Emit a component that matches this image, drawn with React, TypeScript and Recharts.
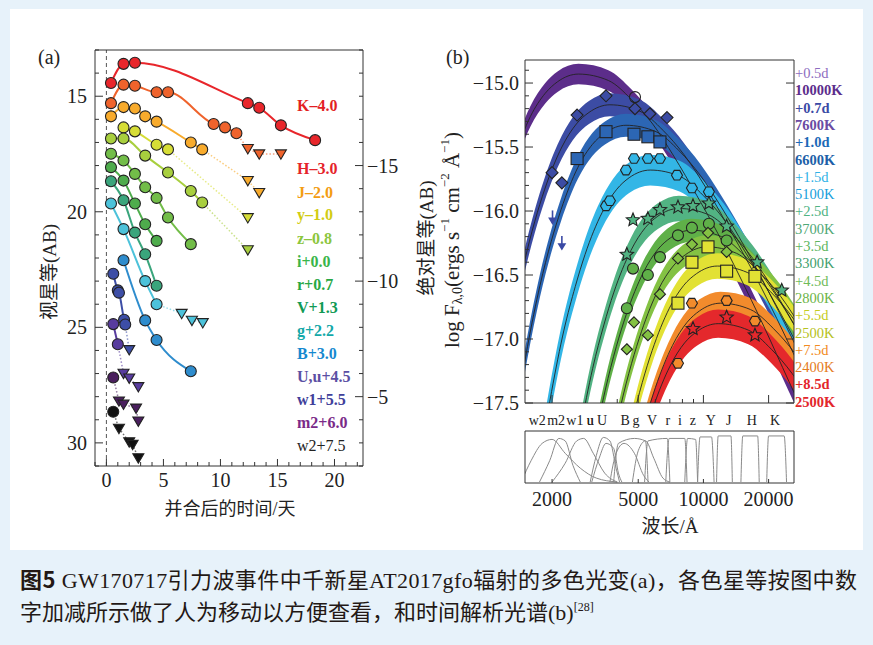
import React from "react";
import { ComposedChart, XAxis, YAxis, Line, Area, Scatter, ReferenceLine } from "recharts";

type Pt = [number, number];

const SERIF = '"Liberation Serif", "Times New Roman", serif';
const MIXED = '"Liberation Serif", "Noto Sans CJK SC", serif';

// ---------- panel (a): light curves, [day, apparent mag] ----------
const K_DET: Pt[] = [[0.4, 14.43], [1.5, 13.6], [2.5, 13.55], [12.4, 15.3], [13.4, 15.5], [15.3, 16.26], [18.3, 16.9]];
const K_UL: Pt[] = [];
const H_DET: Pt[] = [[0.4, 15.3], [1.5, 14.5], [2.5, 14.55], [4.4, 14.83], [5.4, 14.83], [9.4, 16.2], [10.4, 16.35], [11.4, 16.6]];
const H_UL: Pt[] = [[12.4, 17.27], [13.4, 17.5], [15.3, 17.5]];
const J_DET: Pt[] = [[0.4, 15.87], [1.5, 15.47], [2.5, 15.53], [3.4, 15.87], [4.4, 16.1], [7.4, 17.0], [8.4, 17.3]];
const J_UL: Pt[] = [[12.4, 18.65], [13.4, 19.17]];
const Y_DET: Pt[] = [[1.5, 16.35], [2.5, 16.52], [4.4, 17.1], [5.4, 17.3]];
const Y_UL: Pt[] = [[12.4, 20.26]];
const Z_DET: Pt[] = [[0.4, 16.83], [1.5, 16.83], [3.4, 17.57], [5.4, 18.3], [7.4, 19.1], [8.4, 19.6]];
const Z_UL: Pt[] = [[12.4, 21.65]];
const I_DET: Pt[] = [[0.4, 17.49], [1.5, 17.78], [2.5, 18.36], [3.4, 18.94], [4.4, 19.4], [5.4, 20.25], [7.4, 21.4]];
const R_DET: Pt[] = [[0.4, 18.07], [1.5, 18.65], [2.5, 19.64], [3.4, 20.54], [4.4, 21.26]];
const V_DET: Pt[] = [[0.4, 18.68], [1.5, 19.5], [2.5, 20.9], [3.4, 21.84], [4.4, 23.2]];
const G_DET: Pt[] = [[0.4, 19.64], [1.5, 20.75], [3.4, 23.0], [4.4, 24.0]];
const G_UL: Pt[] = [[6.6, 24.4], [7.5, 24.7], [8.45, 24.8]];
const B_DET: Pt[] = [[1.5, 22.1], [3.4, 24.7], [4.4, 25.55], [7.4, 26.9]];
const U_DET: Pt[] = [[0.6, 22.68], [1.0, 23.4], [1.1, 23.5], [1.55, 24.67], [1.65, 24.88]];
const U_UL: Pt[] = [[2.0, 25.97]];
const W1_DET: Pt[] = [[0.6, 24.86], [1.0, 25.73]];
const W1_UL: Pt[] = [[1.5, 26.99], [2.0, 27.2], [2.8, 27.57]];
const M2_DET: Pt[] = [[0.6, 27.17]];
const M2_UL: Pt[] = [[1.1, 28.19], [1.5, 28.33], [2.6, 28.5], [2.8, 29.06]];
const W2_DET: Pt[] = [[0.6, 28.65]];
const W2_UL: Pt[] = [[1.1, 29.37], [2.0, 29.96], [2.3, 30.07], [2.8, 30.65]];

const LC_LABELS = ["K–4.0", "H–3.0", "J–2.0", "y–1.0", "z–0.8", "i+0.0", "r+0.7", "V+1.3", "g+2.2", "B+3.0", "U,u+4.5", "w1+5.5", "m2+6.0", "w2+7.5"];

const A_X_TICKS = [-1, 0, 1, 2, 3, 4, 5, 6, 7, 8, 9, 10, 11, 12, 13, 14, 15, 16, 17, 18, 19, 20, 21, 22];
const A_X_MAJOR = [0, 5, 10, 15, 20];
const A_Y_TICKS = [13, 14, 15, 16, 17, 18, 19, 20, 21, 22, 23, 24, 25, 26, 27, 28, 29, 30, 31];
const A_Y_MAJOR = [15, 20, 25, 30];
const A_ABS_TICKS = [-20, -19, -18, -17, -16, -15, -14, -13, -12, -11, -10, -9, -8, -7, -6, -5, -4, -3, -2];
const A_ABS_MAJOR = [-15, -10, -5];

// ---------- panel (b): blackbody fits, [wavelength Å, log F] ----------
const FIT_05: Pt[] = [[1330, -15.59], [1590, -15.26], [1860, -15.08], [2120, -14.99], [2650, -14.93], [3640, -14.98], [4660, -15.13], [5830, -15.32], [7290, -15.57], [9330, -15.88], [11700, -16.18], [14600, -16.5], [19000, -16.9], [24800, -17.33], [29200, -17.59]];
const FIT_07: Pt[] = [[1295, -16.9], [1480, -16.42], [1665, -16.08], [1850, -15.83], [2220, -15.5], [2590, -15.32], [2960, -15.23], [3700, -15.17], [5090, -15.22], [6510, -15.37], [8140, -15.56], [10200, -15.81], [13000, -16.12], [16300, -16.42], [20400, -16.74], [26500, -17.14]];
const FIT_10: Pt[] = [[1320, -17.75], [1540, -17.06], [1760, -16.58], [1980, -16.24], [2200, -15.99], [2630, -15.66], [3070, -15.48], [3510, -15.39], [4390, -15.33], [6040, -15.38], [7730, -15.53], [9660, -15.72], [12100, -15.97], [15500, -16.28], [19300, -16.58], [24100, -16.9], [31400, -17.3]];
const FIT_15: Pt[] = [[1700, -18.1], [1990, -17.41], [2270, -16.93], [2560, -16.59], [2840, -16.34], [3410, -16.01], [3980, -15.83], [4540, -15.74], [5680, -15.68], [7810, -15.73], [10000, -15.88], [12500, -16.07], [15600, -16.32], [20000, -16.63], [25000, -16.93], [31200, -17.25]];
const FIT_25: Pt[] = [[2310, -18.4], [2700, -17.71], [3080, -17.23], [3470, -16.89], [3850, -16.64], [4620, -16.31], [5390, -16.13], [6160, -16.04], [7700, -15.98], [10600, -16.03], [13600, -16.18], [16900, -16.37], [21200, -16.62], [27100, -16.93]];
const FIT_35: Pt[] = [[2640, -18.57], [3080, -17.88], [3520, -17.4], [3960, -17.06], [4400, -16.81], [5280, -16.48], [6160, -16.3], [7040, -16.21], [8800, -16.15], [12100, -16.2], [15500, -16.35], [19400, -16.54], [24200, -16.79], [31000, -17.1]];
const FIT_45: Pt[] = [[3110, -18.7], [3620, -18.01], [4140, -17.53], [4660, -17.19], [5180, -16.94], [6210, -16.61], [7250, -16.43], [8280, -16.34], [10350, -16.28], [14200, -16.33], [18200, -16.48], [22800, -16.67], [28500, -16.92]];
const FIT_55: Pt[] = [[3480, -18.85], [4060, -18.16], [4640, -17.68], [5220, -17.34], [5800, -17.09], [6960, -16.76], [8120, -16.58], [9280, -16.49], [11600, -16.43], [15950, -16.48], [20400, -16.63], [25500, -16.82], [31900, -17.07]];
const FIT_75: Pt[] = [[4200, -18.45], [4800, -17.97], [5400, -17.63], [6000, -17.38], [7200, -17.05], [8400, -16.87], [9600, -16.78], [12000, -16.72], [16500, -16.77], [21100, -16.92], [26400, -17.11], [33000, -17.36]];
const FIT_85: Pt[] = [[4680, -18.13], [5270, -17.79], [5850, -17.54], [7020, -17.21], [8190, -17.03], [9360, -16.94], [11700, -16.88], [16100, -16.93], [20600, -17.08], [25700, -17.27], [32200, -17.52]];

// photometry points per epoch
const OBS_05: Pt[] = [[4830, -15.11]];
const OBS_07: Pt[] = [[2000, -15.7], [2220, -15.78], [2610, -15.25], [3550, -15.1], [4830, -15.2], [5660, -15.24], [6790, -15.27]];
const OBS_10: Pt[] = [[2610, -15.59], [3550, -15.38], [4780, -15.4], [5540, -15.42], [6300, -15.46]];
const OBS_15: Pt[] = [[3550, -15.96], [3700, -15.92], [4390, -15.68], [4780, -15.59], [5540, -15.59], [6300, -15.59], [7550, -15.72], [8850, -15.82], [10600, -15.85]];
const OBS_25: Pt[] = [[4430, -16.34], [4730, -16.07], [5540, -16.06], [6300, -15.99], [7630, -15.97], [8950, -15.96], [10600, -15.94], [12800, -16.12], [17700, -16.4], [23000, -16.62]];
const OBS_35: Pt[] = [[4430, -16.76], [4730, -16.45], [5540, -16.5], [6300, -16.36], [7630, -16.19], [8850, -16.13], [10600, -16.1], [12800, -16.23]];
const OBS_45: Pt[] = [[4430, -17.08], [4780, -16.87], [5540, -16.97], [6300, -16.65], [7630, -16.37], [8850, -16.26], [10500, -16.17], [12800, -16.32]];
const OBS_55: Pt[] = [[7630, -16.72], [8850, -16.4], [10500, -16.28], [12800, -16.47], [17300, -16.51]];
const OBS_75: Pt[] = [[7630, -17.19], [8850, -16.72], [12800, -16.7], [17300, -16.86]];
const OBS_85: Pt[] = [[8950, -16.92], [12800, -16.83], [17300, -16.97]];
const OBS_LIMITS: Pt[] = [[2010, -16.05], [2220, -16.25]];

const EPOCH_LABELS = ["+0.5d", "10000K", "+0.7d", "7600K", "+1.0d", "6600K", "+1.5d", "5100K", "+2.5d", "3700K", "+3.5d", "3300K", "+4.5d", "2800K", "+5.5d", "2500K", "+7.5d", "2400K", "+8.5d", "2500K"];

const B_LOG_MAJOR = [2000, 5000, 10000, 20000];
const B_LOG_MINOR = [3000, 4000, 6000, 7000, 8000, 9000];
const BAND_NAMES = ["w2", "m2", "w1", "u", "U", "B", "g", "V", "r", "i", "z", "Y", "J", "H", "K"];
const BAND_WAVES = [1710, 2090, 2550, 3000, 3400, 4350, 4880, 5790, 6850, 7800, 8950, 10830, 13100, 16750, 21400];
const B_Y_TICKS = [-17.5, -17.4, -17.3, -17.2, -17.1, -17.0, -16.9, -16.8, -16.7, -16.6, -16.5, -16.4, -16.3, -16.2, -16.1, -16.0, -15.9, -15.8, -15.7, -15.6, -15.5, -15.4, -15.3, -15.2, -15.1, -15.0, -14.9];
const B_Y_MAJOR = [-17.5, -17.0, -16.5, -16.0, -15.5, -15.0];

// filter transmission curves, [wavelength Å, throughput]
const F_W2: Pt[] = [[1450, 0.05], [1600, 0.45], [1800, 0.8], [2000, 0.88], [2300, 0.6], [2700, 0.3], [3200, 0.1], [4000, 0.02]];
const F_M2: Pt[] = [[1750, 0.02], [1950, 0.45], [2150, 0.9], [2300, 0.85], [2500, 0.35], [2700, 0.02]];
const F_W1: Pt[] = [[2000, 0.02], [2300, 0.4], [2600, 0.85], [2800, 0.9], [3100, 0.6], [3500, 0.2], [4000, 0.02]];
const F_u: Pt[] = [[3000, 0.02], [3200, 0.55], [3450, 0.92], [3700, 0.85], [3950, 0.3], [4100, 0.02]];
const F_U: Pt[] = [[3050, 0.02], [3300, 0.5], [3550, 0.8], [3850, 0.7], [4050, 0.2], [4200, 0.02]];
const F_B: Pt[] = [[3700, 0.02], [3950, 0.6], [4300, 0.8], [4800, 0.6], [5300, 0.15], [5600, 0.02]];
const F_g: Pt[] = [[3850, 0.02], [4050, 0.8], [4800, 0.9], [5400, 0.85], [5550, 0.02]];
const F_V: Pt[] = [[4700, 0.02], [5000, 0.65], [5400, 0.85], [5900, 0.5], [6500, 0.1], [7000, 0.02]];
const F_r: Pt[] = [[5350, 0.02], [5550, 0.85], [6800, 0.9], [7000, 0.02]];
const F_i: Pt[] = [[6700, 0.02], [6950, 0.9], [8200, 0.9], [8400, 0.02]];
const F_z: Pt[] = [[8200, 0.02], [8450, 0.9], [9200, 0.88], [9400, 0.02]];
const F_Y: Pt[] = [[9400, 0.02], [9650, 0.93], [10900, 0.93], [11200, 0.02]];
const F_J: Pt[] = [[11500, 0.02], [11700, 0.95], [13400, 0.95], [13600, 0.02]];
const F_H: Pt[] = [[14900, 0.02], [15200, 0.95], [17800, 0.95], [18100, 0.02]];
const F_K: Pt[] = [[19600, 0.02], [20000, 0.95], [23600, 0.95], [24200, 0.02]];
const FILTERS = [F_W2, F_M2, F_W1, F_u, F_U, F_B, F_g, F_V, F_r, F_i, F_z, F_Y, F_J, F_H, F_K];

// ---------- styling ----------
const LC_STYLE = [
  { det: K_DET, ul: K_UL, color: "#e8262b", text: "#e31e24", y: 105 },
  { det: H_DET, ul: H_UL, color: "#ef632c", text: "#e5232a", y: 168 },
  { det: J_DET, ul: J_UL, color: "#f8ab2c", text: "#f39c12", y: 192 },
  { det: Y_DET, ul: Y_UL, color: "#d6dd36", text: "#d2cc14", y: 214 },
  { det: Z_DET, ul: Z_UL, color: "#a8cf3e", text: "#8cc63e", y: 238 },
  { det: I_DET, ul: [] as Pt[], color: "#72bd48", text: "#3ab54a", y: 261 },
  { det: R_DET, ul: [] as Pt[], color: "#4eac4c", text: "#27a844", y: 284 },
  { det: V_DET, ul: [] as Pt[], color: "#3aa57c", text: "#109a55", y: 307 },
  { det: G_DET, ul: G_UL, color: "#4cc2da", text: "#13a8a8", y: 330 },
  { det: B_DET, ul: [] as Pt[], color: "#2e8ccd", text: "#1589d0", y: 353 },
  { det: U_DET, ul: U_UL, color: "#3d4ea6", text: "#5b4fa3", y: 376 },
  { det: W1_DET, ul: W1_UL, color: "#583c9e", text: "#40409a", y: 399 },
  { det: M2_DET, ul: M2_UL, color: "#4a1f5e", text: "#7a2a88", y: 422 },
  { det: W2_DET, ul: W2_UL, color: "#111111", text: "#222222", y: 445 },
];

const EPOCHS = [
  { fit: FIT_05, obs: OBS_05, color: "#5c2d8a", hw: 0.08, mark: "circle", size: 11 },
  { fit: FIT_07, obs: OBS_07, color: "#3c4ca4", hw: 0.09, mark: "diamond", size: 12 },
  { fit: FIT_10, obs: OBS_10, color: "#2c66b4", hw: 0.09, mark: "square", size: 12 },
  { fit: FIT_15, obs: OBS_15, color: "#33b6e6", hw: 0.12, mark: "hex", size: 11 },
  { fit: FIT_25, obs: OBS_25, color: "#52b383", hw: 0.1, mark: "star", size: 14 },
  { fit: FIT_35, obs: OBS_35, color: "#5fb048", hw: 0.09, mark: "circle", size: 11 },
  { fit: FIT_45, obs: OBS_45, color: "#84c243", hw: 0.09, mark: "diamond", size: 11 },
  { fit: FIT_55, obs: OBS_55, color: "#e2e134", hw: 0.1, mark: "square", size: 12 },
  { fit: FIT_75, obs: OBS_75, color: "#f28b2c", hw: 0.09, mark: "hex", size: 11 },
  { fit: FIT_85, obs: OBS_85, color: "#e4282c", hw: 0.11, mark: "star", size: 14 },
];

const EPOCH_TEXT = [
  { c: "#8d6cc0", b: false }, { c: "#5c2d8c", b: true }, { c: "#3b4aa5", b: true }, { c: "#6a4ba3", b: true },
  { c: "#1c69b7", b: true }, { c: "#1d5fa8", b: true }, { c: "#2fb2e6", b: false }, { c: "#16a0dc", b: false },
  { c: "#4fb383", b: false }, { c: "#4fa876", b: false }, { c: "#5db65e", b: false }, { c: "#42a06e", b: false },
  { c: "#6fbb5a", b: false }, { c: "#6cb447", b: false }, { c: "#c5cc22", b: false }, { c: "#b6c222", b: false },
  { c: "#f28a20", b: false }, { c: "#e57b22", b: false }, { c: "#e3262b", b: true }, { c: "#e3262b", b: true },
];

const toLc = (pts: Pt[]) => pts.map(([day, mag]) => ({ day, mag }));
const toSp = (pts: Pt[]) => pts.map(([w, v]) => ({ w, v }));

type Side = "bottom" | "top" | "left" | "right";
interface TickCfg { major: number; minor: number; gap: number; fontSize: number; fmt?: (v: number) => string }

function makeTick(side: Side, majors: number[], cfg: TickCfg) {
  return (props: any) => {
    const x = Number(props.x);
    const y = Number(props.y);
    const v = Number(props.payload?.value);
    const major = majors.some((m) => Math.abs(m - v) < 1e-6);
    const len = major ? cfg.major : cfg.minor;
    const label = major && cfg.fmt ? cfg.fmt(v) : null;
    let x2 = x, y2 = y, tx = x, ty = y;
    let anchor: "start" | "middle" | "end" = "middle";
    let base: any = "central";
    if (side === "bottom") { y2 = y - len; ty = y + cfg.gap; base = "hanging"; }
    else if (side === "top") { y2 = y + len; ty = y - cfg.gap; base = "auto"; }
    else if (side === "left") { x2 = x + len; tx = x - cfg.gap; anchor = "end"; }
    else { x2 = x - len; tx = x + cfg.gap; anchor = "start"; }
    return (
      <g>
        {len > 0 && <line x1={x} y1={y} x2={x2} y2={y2} stroke="#333" strokeWidth={1} />}
        {label != null && (
          <text x={tx} y={ty} textAnchor={anchor} dominantBaseline={base} fontFamily={SERIF} fontSize={cfg.fontSize} fill="#222">
            {label}
          </text>
        )}
      </g>
    );
  };
}

const minus = (v: number, d = 0) => (v < 0 ? "\u2212" : "") + Math.abs(v).toFixed(d);

function marker(kind: string, fill: string, size: number, stroke = "#222") {
  return (p: any) => {
    const cx = Number(p.cx);
    const cy = Number(p.cy);
    if (!isFinite(cx) || !isFinite(cy)) return <g />;
    const s = size / 2;
    const st = { fill, stroke, strokeWidth: 1.1 };
    if (kind === "circle") return <circle cx={cx} cy={cy} r={s} {...st} />;
    if (kind === "square") return <rect x={cx - s} y={cy - s} width={size} height={size} {...st} />;
    if (kind === "diamond")
      return <polygon points={`${cx},${cy - s} ${cx + s},${cy} ${cx},${cy + s} ${cx - s},${cy}`} {...st} />;
    if (kind === "tri")
      return <polygon points={`${cx - s},${cy - s * 0.75} ${cx + s},${cy - s * 0.75} ${cx},${cy + s * 0.95}`} {...st} />;
    if (kind === "arrow")
      return (
        <g stroke={fill} strokeWidth={1.6} fill={fill}>
          <line x1={cx} y1={cy - 7} x2={cx} y2={cy + 2} />
          <polygon points={`${cx - 3},${cy + 1} ${cx + 3},${cy + 1} ${cx},${cy + 6}`} />
        </g>
      );
    const pts: string[] = [];
    if (kind === "hex") {
      for (let k = 0; k < 6; k++) {
        const a = (Math.PI / 3) * k;
        pts.push(`${cx + s * Math.cos(a)},${cy + s * Math.sin(a)}`);
      }
    } else {
      for (let k = 0; k < 10; k++) {
        const a = -Math.PI / 2 + (Math.PI / 5) * k;
        const r = k % 2 === 0 ? s : s * 0.45;
        pts.push(`${cx + r * Math.cos(a)},${cy + r * Math.sin(a)}`);
      }
    }
    return <polygon points={pts.join(" ")} {...st} />;
  };
}

const AXIS_LINE = { stroke: "#333", strokeWidth: 1 };
const noMargin = { top: 0, right: 0, bottom: 0, left: 0 };

function LightCurves() {
  const series: React.ReactNode[] = [];
  LC_STYLE.forEach((b, i) => {
    if (b.det.length > 1)
      series.push(
        <Line key={`s${i}`} data={toLc(b.det)} dataKey="mag" xAxisId="b" yAxisId="l" type="monotone"
          stroke={b.color} strokeWidth={2} dot={false} activeDot={false} isAnimationActive={false} />
      );
    if (b.ul.length > 0)
      series.push(
        <Line key={`d${i}`} data={toLc([b.det[b.det.length - 1], ...b.ul])} dataKey="mag" xAxisId="b" yAxisId="l"
          type="linear" stroke={b.color} strokeOpacity={0.6} strokeWidth={1.5} strokeDasharray="1.5 2"
          dot={false} activeDot={false} isAnimationActive={false} />
      );
  });
  LC_STYLE.forEach((b, i) => {
    if (b.ul.length > 0)
      series.push(
        <Scatter key={`u${i}`} data={toLc(b.ul)} dataKey="mag" xAxisId="b" yAxisId="l"
          shape={marker("tri", b.color, 11)} isAnimationActive={false} />
      );
    series.push(
      <Scatter key={`c${i}`} data={toLc(b.det)} dataKey="mag" xAxisId="b" yAxisId="l"
        shape={marker("circle", b.color, 11)} isAnimationActive={false} />
    );
  });
  return (
    <ComposedChart width={430} height={520} margin={noMargin}>
      <XAxis xAxisId="b" dataKey="day" type="number" domain={[-1, 22.5]} allowDataOverflow ticks={A_X_TICKS}
        interval={0} height={54} tickSize={0} tickMargin={0} tickLine={false} axisLine={AXIS_LINE}
        tick={makeTick("bottom", A_X_MAJOR, { major: 7, minor: 4, gap: 7, fontSize: 20, fmt: (v) => String(v) })} />
      <XAxis xAxisId="t" orientation="top" type="number" domain={[-1, 22.5]} allowDataOverflow ticks={A_X_TICKS}
        interval={0} height={50} tickSize={0} tickMargin={0} tickLine={false} axisLine={AXIS_LINE}
        tick={makeTick("top", A_X_MAJOR, { major: 7, minor: 4, gap: 0, fontSize: 20 })} />
      <YAxis yAxisId="l" dataKey="mag" type="number" domain={[13, 31]} reversed allowDataOverflow ticks={A_Y_TICKS}
        interval={0} width={95} tickSize={0} tickMargin={0} tickLine={false} axisLine={AXIS_LINE}
        tick={makeTick("left", A_Y_MAJOR, { major: 8, minor: 4, gap: 8, fontSize: 20, fmt: (v) => String(v) })} />
      <YAxis yAxisId="r" orientation="right" type="number" domain={[-20, -2]} reversed allowDataOverflow
        ticks={A_ABS_TICKS} interval={0} width={67} tickSize={0} tickMargin={0} tickLine={false} axisLine={AXIS_LINE}
        tick={makeTick("right", A_ABS_MAJOR, { major: 8, minor: 4, gap: 4, fontSize: 20, fmt: (v) => minus(v) })} />
      <ReferenceLine xAxisId="b" yAxisId="l" x={0} stroke="#555" strokeDasharray="4 3" strokeWidth={1} />
      {series}
    </ComposedChart>
  );
}

function Spectra() {
  const bottomTicks = [...B_LOG_MAJOR, ...B_LOG_MINOR, ...BAND_WAVES].sort((a, b) => a - b);
  const logTicks = [...B_LOG_MAJOR, ...B_LOG_MINOR].sort((a, b) => a - b);
  const bottomTick = (props: any) => {
    const x = Number(props.x);
    const y = Number(props.y);
    const v = Number(props.payload?.value);
    const bi = BAND_WAVES.indexOf(v);
    if (bi >= 0)
      return (
        <text x={x} y={y + 22} textAnchor="middle" fontFamily={SERIF} fontSize={14} fill="#222">{BAND_NAMES[bi]}</text>
      );
    const len = B_LOG_MAJOR.includes(v) ? 8 : 4;
    return <line x1={x} y1={y} x2={x} y2={y - len} stroke="#333" />;
  };
  const series: React.ReactNode[] = [];
  EPOCHS.forEach((e, i) => {
    const band = e.fit.map(([w, v]) => ({ w, band: [v - e.hw, v + e.hw] }));
    series.push(
      <Area key={`a${i}`} data={band} dataKey="band" xAxisId="b" yAxisId="l" type="monotone" stroke="none"
        fill={e.color} fillOpacity={1} dot={false} activeDot={false} isAnimationActive={false} />
    );
    series.push(
      <Line key={`l${i}`} data={toSp(e.fit)} dataKey="v" xAxisId="b" yAxisId="l" type="monotone" stroke="#222"
        strokeWidth={0.9} dot={false} activeDot={false} isAnimationActive={false} />
    );
  });
  EPOCHS.forEach((e, i) => {
    series.push(
      <Scatter key={`m${i}`} data={toSp(e.obs)} dataKey="v" xAxisId="b" yAxisId="l"
        shape={marker(e.mark, i === 0 ? "none" : e.color, e.size)} isAnimationActive={false} />
    );
  });
  series.push(
    <Scatter key="lim" data={toSp(OBS_LIMITS)} dataKey="v" xAxisId="b" yAxisId="l"
      shape={marker("arrow", "#3b4aa5", 8)} isAnimationActive={false} />
  );
  return (
    <ComposedChart width={443} height={440} margin={noMargin}>
      <XAxis xAxisId="b" dataKey="w" type="number" scale="log" domain={[1500, 26200]} allowDataOverflow
        ticks={bottomTicks} interval={0} height={37} tickSize={0} tickMargin={0} tickLine={false}
        axisLine={AXIS_LINE} tick={bottomTick} />
      <XAxis xAxisId="t" orientation="top" type="number" scale="log" domain={[1500, 26200]} allowDataOverflow
        ticks={logTicks} interval={0} height={60} tickSize={0} tickMargin={0} tickLine={false} axisLine={AXIS_LINE}
        tick={makeTick("top", B_LOG_MAJOR, { major: 8, minor: 4, gap: 9, fontSize: 20, fmt: (v) => String(v) })} />
      <YAxis yAxisId="l" dataKey="v" type="number" domain={[-17.5, -14.82]} allowDataOverflow ticks={B_Y_TICKS}
        interval={0} width={95} tickSize={0} tickMargin={0} tickLine={false} axisLine={AXIS_LINE}
        tick={makeTick("left", B_Y_MAJOR, { major: 8, minor: 4, gap: 6, fontSize: 20, fmt: (v) => minus(v, 1) })} />
      <YAxis yAxisId="r" orientation="right" type="number" domain={[-17.5, -14.82]} allowDataOverflow
        ticks={B_Y_MAJOR} interval={0} width={79} tickSize={0} tickMargin={0} tickLine={false} axisLine={AXIS_LINE}
        tick={makeTick("right", B_Y_MAJOR, { major: 8, minor: 4, gap: 0, fontSize: 20 })} />
      {series}
    </ComposedChart>
  );
}

function Filters() {
  return (
    <ComposedChart width={443} height={125} margin={noMargin}>
      <XAxis xAxisId="b" dataKey="w" type="number" scale="log" domain={[1500, 26200]} allowDataOverflow
        ticks={B_LOG_MAJOR} interval={0} height={62} tickSize={0} tickMargin={0} tickLine={false}
        axisLine={AXIS_LINE}
        tick={makeTick("bottom", B_LOG_MAJOR, { major: 4, minor: 2, gap: 9, fontSize: 20, fmt: (v) => String(v) })} />
      <XAxis xAxisId="t" orientation="top" type="number" scale="log" domain={[1500, 26200]} allowDataOverflow
        ticks={B_LOG_MAJOR} interval={0} height={11} tickSize={0} tickMargin={0} tickLine={false}
        axisLine={AXIS_LINE} tick={makeTick("top", B_LOG_MAJOR, { major: 4, minor: 2, gap: 0, fontSize: 20 })} />
      <YAxis yAxisId="l" dataKey="t" type="number" domain={[0, 1.05]} allowDataOverflow ticks={[0.5]} interval={0}
        width={95} tickSize={0} tickMargin={0} tickLine={false} axisLine={AXIS_LINE} tick={() => <g />} />
      <YAxis yAxisId="r" orientation="right" type="number" domain={[0, 1.05]} allowDataOverflow ticks={[0.5]}
        interval={0} width={79} tickSize={0} tickMargin={0} tickLine={false} axisLine={AXIS_LINE} tick={() => <g />} />
      {FILTERS.map((f, i) => (
        <Line key={i} data={f.map(([w, t]) => ({ w, t }))} dataKey="t" xAxisId="b" yAxisId="l" type="monotone"
          stroke="#8a8a8a" strokeWidth={1} dot={false} activeDot={false} isAnimationActive={false} />
      ))}
    </ComposedChart>
  );
}

function Overlay() {
  return (
    <svg width={873} height={645} style={{ position: "absolute", left: 0, top: 0, pointerEvents: "none" }}>
      <text x={38} y={64} fontFamily={SERIF} fontSize={20} fill="#222">(a)</text>
      <text x={446} y={64} fontFamily={SERIF} fontSize={20} fill="#222">(b)</text>
      <text transform="translate(49,272) rotate(-90)" textAnchor="middle" dominantBaseline="central"
        fontFamily={MIXED} fontSize={19} fill="#222">视星等(AB)</text>
      <text x={230} y={515} textAnchor="middle" fontFamily={MIXED} fontSize={18} fill="#222">并合后的时间/天</text>
      <text transform="translate(426,238) rotate(-90)" textAnchor="middle" dominantBaseline="central"
        fontFamily={MIXED} fontSize={19} fill="#222">绝对星等(AB)</text>
      <text transform="translate(452,240) rotate(-90)" textAnchor="middle" dominantBaseline="central"
        fontFamily={SERIF} fontSize={21} fill="#222">
        log F<tspan fontSize={14} dy={5}>λ,0</tspan>
        <tspan dy={-5}>(ergs s</tspan><tspan fontSize={13} dy={-8}>−1</tspan>
        <tspan dy={8}> cm</tspan><tspan fontSize={13} dy={-8}>−2</tspan>
        <tspan dy={8}> Å</tspan><tspan fontSize={13} dy={-8}>−1</tspan>
        <tspan dy={8}>)</tspan>
      </text>
      <text x={670} y={533} textAnchor="middle" fontFamily={MIXED} fontSize={19} fill="#222">波长/Å</text>
      {LC_LABELS.map((t, i) => (
        <text key={t} x={297} y={LC_STYLE[i].y} dominantBaseline="central" fontFamily={SERIF}
          fontSize={16} fontWeight={i === LC_LABELS.length - 1 ? 400 : 700} fill={LC_STYLE[i].text}>{t}</text>
      ))}
      {EPOCH_LABELS.map((t, i) => (
        <text key={i} x={795} y={73 + i * 17.3} dominantBaseline="central" fontFamily={SERIF} fontSize={14.5}
          fontWeight={EPOCH_TEXT[i].b ? 700 : 400} fill={EPOCH_TEXT[i].c}>{t}</text>
      ))}
      <text x={20} y={588} fontFamily={MIXED} fontSize={22} fill="#231815" textLength={837} lengthAdjust="spacing">
        <tspan fontWeight={700} fontFamily='"Noto Sans CJK SC", sans-serif'>图5</tspan>
        {"  GW170717引力波事件中千新星AT2017gfo辐射的多色光变(a)，各色星等按图中数"}
      </text>
      <text x={20} y={620} fontFamily={MIXED} fontSize={22} fill="#231815">
        字加减所示做了人为移动以方便查看，和时间解析光谱(b)<tspan fontSize={12} dy={-9}>[28]</tspan>
      </text>
    </svg>
  );
}

export default function App() {
  return (
    <div style={{ position: "absolute", left: 0, top: 0, width: 873, height: 645, background: "#e7f2fa", overflow: "hidden" }}>
      <div style={{ position: "absolute", left: 10, top: 9, width: 853, height: 541, background: "#ffffff" }} />
      <div style={{ position: "absolute", left: 0, top: 0 }}><LightCurves /></div>
      <div style={{ position: "absolute", left: 430, top: 0 }}><Spectra /></div>
      <div style={{ position: "absolute", left: 430, top: 420 }}><Filters /></div>
      <Overlay />
    </div>
  );
}
